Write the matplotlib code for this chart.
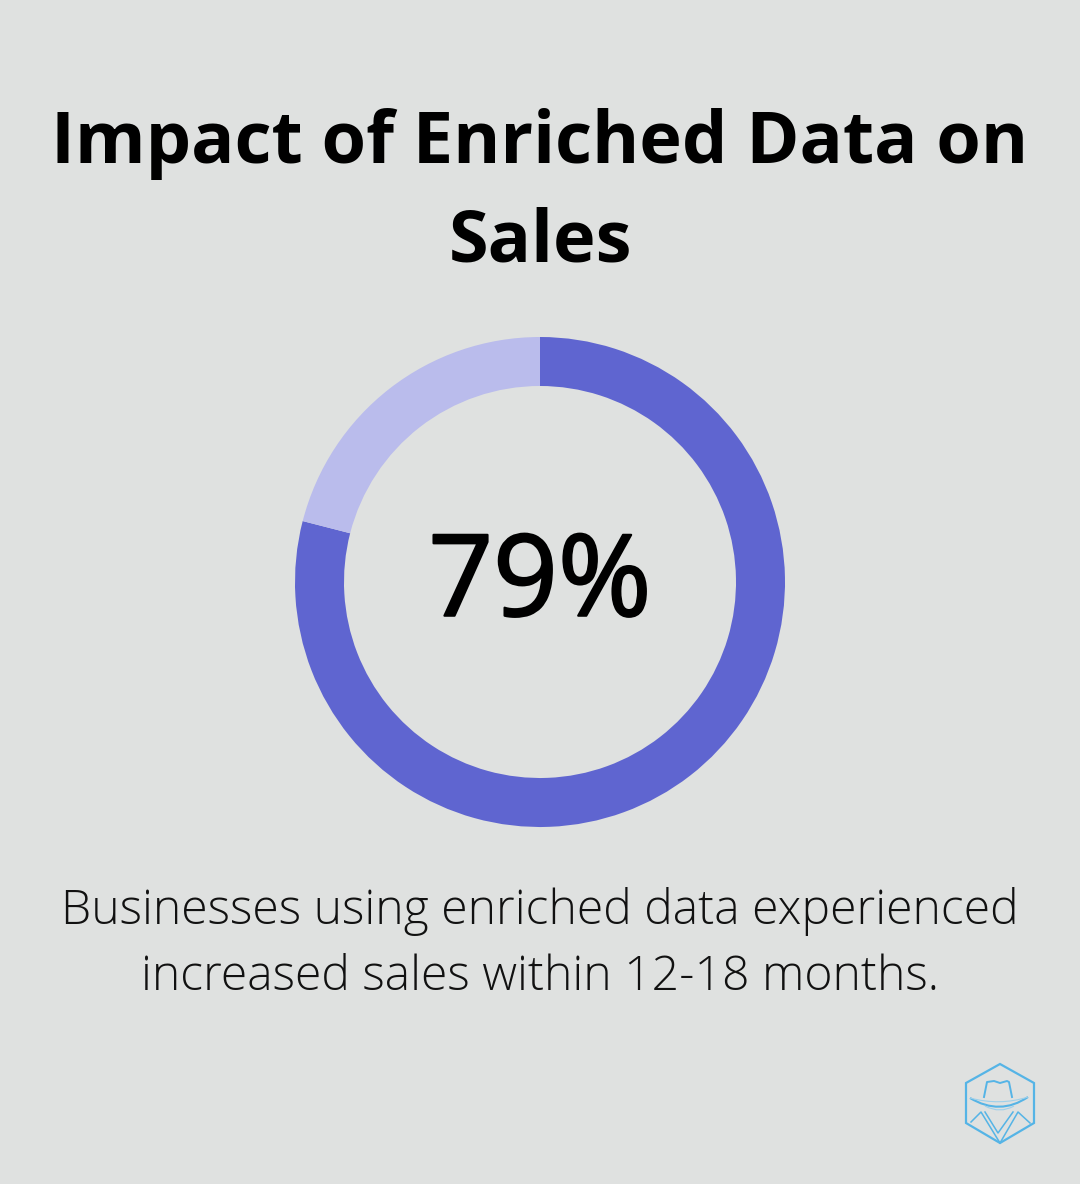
import matplotlib
matplotlib.use('Agg')
from matplotlib import pyplot as plt
from matplotlib import patheffects
from matplotlib.patches import Polygon, PathPatch
from matplotlib.path import Path

title_lines = ['Impact of Enriched Data on', 'Sales']
caption_lines = ['Businesses using enriched data experienced', 'increased sales within 12-18 months.']
values = [79, 21]
colors = ['#5f65d0', '#babcec']
center_label = '79%'
bg = '#dfe1e0'

W, H = 1080, 1184
fig = plt.figure(figsize=(W / 100, H / 100), dpi=100, facecolor=bg)

# full figure axes in pixel coords, for the text and logo
px = fig.add_axes([0, 0, 1, 1])
px.set_xlim(0, W)
px.set_ylim(H, 0)
px.axis('off')

px.text(540, 144, title_lines[0], ha='center', va='center', fontsize=51.8, fontweight='bold', family='Open Sans', color='black')
px.text(540, 243, title_lines[1], ha='center', va='center', fontsize=51.8, fontweight='bold', family='Open Sans', color='black')
px.text(540, 912, caption_lines[0], ha='center', va='center', fontsize=34.7, fontweight='light', family='Open Sans', color='#111111')
px.text(540, 978, caption_lines[1], ha='center', va='center', fontsize=34.7, fontweight='light', family='Open Sans', color='#111111')

# donut
ax = fig.add_axes([295 / W, 1 - 827 / H, 490 / W, 490 / H])
ax.pie(values, colors=colors, startangle=90, counterclock=False, radius=1,
       wedgeprops={'width': 0.2, 'linewidth': 0})
ax.set_xlim(-1, 1)
ax.set_ylim(-1, 1)
# no medium weight installed, so thicken the regular one a little
ax.text(0, -0.016, center_label, ha='center', va='center', fontsize=81.5, family='Open Sans', color='black',
        path_effects=[patheffects.withStroke(linewidth=1.6, foreground='black')])


def curve(verts, lw=1.2, color='#55b4e6'):
    codes = [Path.MOVETO] + [Path.CURVE3] * (len(verts) - 1)
    px.add_patch(PathPatch(Path(verts, codes), fill=False, ec=color, lw=lw))


# logo
logo = '#55b4e6'
hexagon = [(1000, 1064), (1034, 1083), (1034, 1123), (1000, 1143), (966, 1123), (966, 1083)]
px.add_patch(Polygon(hexagon, closed=True, fill=False, ec=logo, lw=1.6))
px.plot([984, 987, 994, 1000, 1007, 1009, 1012], [1097, 1082, 1081, 1083, 1081, 1082, 1097], color=logo, lw=1.4)
curve([(970, 1098), (1000, 1116), (1028, 1097)], lw=1.5)
curve([(970, 1098), (1000, 1106), (1028, 1097)], lw=0.8, color='#9fd0ea')
curve([(985, 1106), (1000, 1114), (1014, 1106)], lw=0.8, color='#9fd0ea')
px.plot([971, 981, 1000, 1018, 1030], [1122, 1112, 1143, 1112, 1123], color=logo, lw=1.1)
px.plot([985, 998, 1013], [1112, 1133, 1112], color=logo, lw=1.1)

fig.savefig('out.png', dpi=100, facecolor=bg)
